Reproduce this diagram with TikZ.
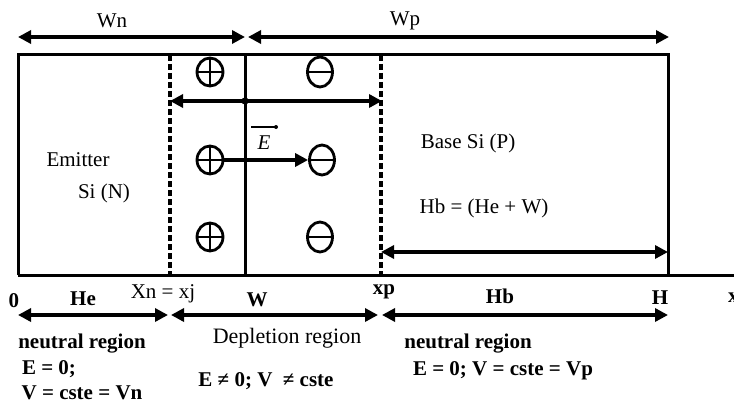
\documentclass[tikz,border=0pt]{standalone}
\usepackage{fontspec}
\setmainfont{Liberation Serif}
\usetikzlibrary{arrows.meta,shapes.geometric}
\begin{document}
\begin{tikzpicture}[x=1pt,y=-1pt,
  tipL/.tip={Triangle[length=13pt,width=13pt]},
  dim/.style={line width=3.4pt,tipL-tipL},
  onearrow/.style={line width=3.4pt,-tipL},
  frame/.style={line width=3pt},
  dashv/.style={line width=3.2pt,dash pattern=on 6pt off 3pt},
  lab/.style={font=\fontsize{21}{25}\selectfont,inner sep=0pt},
  blab/.style={font=\fontsize{21}{25}\selectfont\bfseries,inner sep=0pt},
  plusch/.style={ellipse,draw,line width=2.8pt,minimum width=26pt,minimum height=28pt,inner sep=0pt,
    path picture={\draw[line width=2.6pt] (path picture bounding box.north) -- (path picture bounding box.south)
      (path picture bounding box.west) -- (path picture bounding box.east);}},
  minusch/.style={ellipse,draw,line width=2.8pt,minimum width=25pt,minimum height=30pt,inner sep=0pt,
    path picture={\draw[line width=2.6pt] (path picture bounding box.west) -- (path picture bounding box.east);}}
]
\useasboundingbox (0,0) rectangle (734,404);
% frame corners
\coordinate (tl) at (18,55);
\coordinate (tr) at (668,55);
\coordinate (bl) at (18,275);
\coordinate (br) at (668,275);
\coordinate (axisEnd) at (740,275);
\coordinate (dnT) at (170,55);
\coordinate (dnB) at (170,275);
\coordinate (jT) at (245,55);
\coordinate (jB) at (245,275);
\coordinate (dpT) at (381,55);
\coordinate (dpB) at (381,275);
\draw[frame] (bl) -- (tl) -- (tr) -- (br) -- (bl);
\draw[frame] (br) -- (axisEnd);
\draw[dashv] (dnT) -- (dnB);
\draw[dashv] (dpT) -- (dpB);
\draw[frame] (jT) -- (jB);

% top dimensions
\coordinate (wnL) at (18,37);
\coordinate (wnR) at (245,37);
\coordinate (wpL) at (248,37);
\coordinate (wpR) at (669,37);
\draw[dim] (wnL) -- (wnR);
\draw[dim] (wpL) -- (wpR);
\node[lab] (wn) at (112,21) {Wn};
\node[lab] (wp) at (405,21) {Wp};

% depletion width arrow
\coordinate (mid) at (245,101);
\coordinate (midL) at (170,101);
\coordinate (midR) at (382,101);
\draw[onearrow] (mid) -- (midL);
\draw[onearrow] (mid) -- (midR);
\fill (mid) circle (3.6pt);

% charges
\node[plusch] (p1) at (210,72) {};
\node[plusch] (p2) at (210,160) {};
\node[plusch] (p3) at (210,237) {};
\node[minusch] (m1) at (320,72) {};
\node[minusch] (m2) at (322,160) {};
\node[minusch] (m3) at (320,237) {};
\draw[onearrow] (p2.east) -- (m2.west);
\node[lab] (evec) at (264,143) {\textit{E}};
\coordinate (barL) at (251,127);
\coordinate (barR) at (276,127);
\draw[line width=2.6pt] (barL) -- (barR);
\fill (barR) circle (2pt);

% region labels
\node[lab] (emit) at (78,160) {Emitter};
\node[lab] (sin) at (104,193) {Si (N)};
\node[lab] (base) at (468,143) {Base Si (P)};
\node[lab] (hbeq) at (484,208) {Hb = (He + W)};
\coordinate (hbL) at (381,252);
\coordinate (hbR) at (668,252);
\draw[dim] (hbL) -- (hbR);

% axis labels
\node[blab] (l0) at (14,301) {0};
\node[blab] (lhe) at (83,299) {He};
\node[lab] (lxn) at (163,294) {Xn = xj};
\node[blab] (lw) at (257,300) {W};
\node[blab] (lxp) at (384,292) {xp};
\node[blab] (lhb) at (500,296) {Hb};
\node[blab] (lh) at (660,298) {H};
\node[blab,anchor=west] (lx) at (728,298) {x};

% bottom dimension arrows
\coordinate (b0) at (18,315);
\coordinate (b1) at (168,315);
\coordinate (b2) at (171,315);
\coordinate (b3) at (378,315);
\coordinate (b4) at (382,315);
\coordinate (b5) at (668,315);
\draw[dim] (b0) -- (b1);
\draw[dim] (b2) -- (b3);
\draw[dim] (b4) -- (b5);

% bottom texts
\node[blab] (nr1) at (82,344) {neutral region};
\node[blab] (e1) at (49,369) {E = 0;};
\node[blab] (v1) at (82,393) {V = cste = Vn};
\node[lab,font=\fontsize{22}{26}\selectfont] (dep) at (287,338) {Depletion region};
\node[blab] (e2) at (266,381) {E ≠ 0; V \ ≠ cste};
\node[blab] (nr2) at (468,344) {neutral region};
\node[blab] (e3) at (503,371) {E = 0; V = cste = Vp};
\end{tikzpicture}
\end{document}
